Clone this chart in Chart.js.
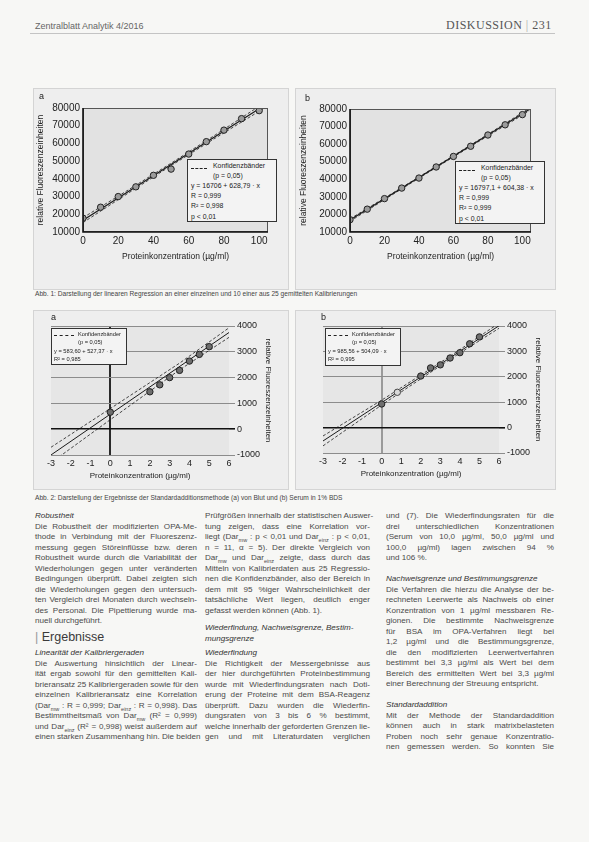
<!DOCTYPE html>
<html lang="de">
<head>
<meta charset="utf-8">
<title>Abb. 1 / Abb. 2</title>
<script src="https://cdn.jsdelivr.net/npm/chart.js@4/dist/chart.umd.min.js"></script>
<style>
  body { margin: 0; width: 589px; height: 842px; position: relative; overflow: hidden;
         background: #f7f7f5; font-family: 'Liberation Sans', Arial, sans-serif; color: #3a3a3a }
  .abs { position: absolute }
  .panel { position: absolute; background: #eeeeee; border: 1px solid #d4d4d4; box-sizing: border-box }
  canvas { position: absolute }
  .tag { position: absolute; font-size: 9px; color: #222 }
  .legend { position: absolute; background: #f3f3f3; border: 1px solid #333; box-sizing: border-box;
            color: #222; white-space: nowrap; overflow: hidden }
  .legend .row { position: relative }
  .legend .dash { position: absolute; border-top: 1px dashed #222 }
  .cap { position: absolute; left: 35px; font-size: 6.6px; color: #444; white-space: nowrap }
  .col { position: absolute; font-size: 8.1px; line-height: 10.5px; color: #4a4a4a }
  .col div { white-space: nowrap; text-align: justify; text-align-last: justify; height: 10.5px }
  .col div.end { text-align-last: left }
  .col .sh { font-style: italic; color: #333 }
  .col sub { font-size: 5.5px; line-height: 0 }
</style>
</head>
<body>

<!-- Kopfzeile -->
<div class="abs" style="left:35px;top:21px;font-size:9px;color:#666">Zentralblatt Analytik 4/2016</div>
<div class="abs" style="left:446px;top:18px;font-family:'Liberation Serif',serif;font-size:12px;letter-spacing:0.5px;color:#555">DISKUSSION <span style="color:#aaa">|</span> 231</div>
<div class="abs" style="left:30px;top:33px;width:525px;height:1px;background:#c4c4c4"></div>

<!-- Abb. 1 -->
<div class="panel" style="left:33px;top:88px;width:256px;height:202px"></div>
<div class="panel" style="left:295px;top:88px;width:261px;height:202px"></div>
<canvas id="fig1a" width="256" height="202" style="left:33px;top:88px"></canvas>
<canvas id="fig1b" width="261" height="202" style="left:295px;top:88px"></canvas>
<div class="tag" style="left:39px;top:91px">a</div>
<div class="tag" style="left:305px;top:93px">b</div>

<div class="legend" style="left:187px;top:159px;width:90px;height:63px;font-size:6.9px;line-height:10.2px;padding:1px 3px">
  <div class="row" style="padding-left:22px;height:20px;line-height:9.5px">Konfidenzbänder<br>(p = 0,05)<span class="dash" style="left:0;top:7px;width:16px"></span></div>
  <div>y = 16706 + 628,79 · x</div>
  <div>R = 0,999</div>
  <div>R² = 0,998</div>
  <div>p &lt; 0,01</div>
</div>
<div class="legend" style="left:455px;top:161px;width:90px;height:63px;font-size:6.9px;line-height:10.2px;padding:1px 3px">
  <div class="row" style="padding-left:22px;height:20px;line-height:9.5px">Konfidenzbänder<br>(p = 0,05)<span class="dash" style="left:0;top:7px;width:16px"></span></div>
  <div>y = 16797,1 + 604,38 · x</div>
  <div>R = 0,999</div>
  <div>R² = 0,999</div>
  <div>p &lt; 0,01</div>
</div>

<div class="cap" style="top:290px">Abb. 1: Darstellung der linearen Regression an einer einzelnen und 10 einer aus 25 gemittelten Kalibrierungen</div>

<!-- Abb. 2 -->
<div class="panel" style="left:33px;top:310px;width:256px;height:180px"></div>
<div class="panel" style="left:295px;top:310px;width:261px;height:180px"></div>
<canvas id="fig2a" width="256" height="180" style="left:33px;top:310px"></canvas>
<canvas id="fig2b" width="261" height="180" style="left:295px;top:310px"></canvas>
<div class="tag" style="left:51px;top:312px">a</div>
<div class="tag" style="left:321px;top:312px">b</div>

<div class="legend" style="left:51px;top:328px;width:76px;height:37px;font-size:5.7px;line-height:8.4px;padding:1px 2px">
  <div class="row" style="padding-left:24px;height:16.8px">Konfidenzbänder<br>(p = 0,05)<span class="dash" style="left:0;top:5px;width:20px"></span></div>
  <div>y = 583,60 + 527,37 · x</div>
  <div>R² = 0,985</div>
</div>
<div class="legend" style="left:325px;top:328px;width:76px;height:38px;font-size:5.7px;line-height:8.4px;padding:1px 2px">
  <div class="row" style="padding-left:24px;height:16.8px">Konfidenzbänder<br>(p = 0,05)<span class="dash" style="left:0;top:5px;width:20px"></span></div>
  <div>y = 985,56 + 504,09 · x</div>
  <div>R² = 0,995</div>
</div>

<div class="cap" style="top:494px">Abb. 2: Darstellung der Ergebnisse der Standardadditionsmethode (a) von Blut und (b) Serum in 1% BDS</div>

<!-- Fliesstext -->
<div class="col" style="left:35px;top:511px;width:162px">
  <div class="sh end">Robustheit</div>
  <div>Die Robustheit der modifizierten OPA-Me-</div>
  <div>thode in Verbindung mit der Fluoreszenz-</div>
  <div>messung gegen Störeinflüsse bzw. deren</div>
  <div>Robustheit wurde durch die Variabilität der</div>
  <div>Wiederholungen gegen unter veränderten</div>
  <div>Bedingungen überprüft. Dabei zeigten sich</div>
  <div>die Wiederholungen gegen den untersuch-</div>
  <div>ten Vergleich drei Monaten durch wechseln-</div>
  <div>des Personal. Die Pipettierung wurde ma-</div>
  <div class="end">nuell durchgeführt.</div>
</div>
<div class="abs" style="left:35px;top:630px;font-size:12.5px;color:#3a3a3a"><span style="color:#999">|</span> Ergebnisse</div>
<div class="col" style="left:35px;top:648px;width:162px">
  <div class="sh end">Linearität der Kalibriergeraden</div>
  <div>Die Auswertung hinsichtlich der Linear-</div>
  <div>ität ergab sowohl für den gemittelten Kali-</div>
  <div>brieransatz 25 Kalibriergeraden sowie für den</div>
  <div>einzelnen Kalibrieransatz eine Korrelation</div>
  <div>(Dar<sub>mw</sub> : R = 0,999; Dar<sub>einz</sub> : R = 0,998). Das</div>
  <div>Bestimmtheitsmaß von Dar<sub>mw</sub> (R² = 0,999)</div>
  <div>und Dar<sub>einz</sub> (R² = 0,998) weist außerdem auf</div>
  <div>einen starken Zusammenhang hin. Die beiden</div>
</div>

<div class="col" style="left:205px;top:511px;width:165px">
  <div>Prüfgrößen innerhalb der statistischen Auswer-</div>
  <div>tung zeigen, dass eine Korrelation vor-</div>
  <div>liegt (Dar<sub>mw</sub> : p &lt; 0,01 und Dar<sub>einz</sub> : p &lt; 0,01,</div>
  <div>n = 11, α = 5). Der direkte Vergleich von</div>
  <div>Dar<sub>mw</sub> und Dar<sub>einz</sub> zeigte, dass durch das</div>
  <div>Mitteln von Kalibrierdaten aus 25 Regressio-</div>
  <div>nen die Konfidenzbänder, also der Bereich in</div>
  <div>dem mit 95 %iger Wahrscheinlichkeit der</div>
  <div>tatsächliche Wert liegen, deutlich enger</div>
  <div class="end">gefasst werden können (Abb. 1).</div>
</div>
<div class="col" style="left:205px;top:623px;width:165px">
  <div class="sh end">Wiederfindung, Nachweisgrenze, Bestim-</div>
  <div class="sh end">mungsgrenze</div>
</div>
<div class="col" style="left:205px;top:648px;width:165px">
  <div class="sh end">Wiederfindung</div>
  <div>Die Richtigkeit der Messergebnisse aus</div>
  <div>der hier durchgeführten Proteinbestimmung</div>
  <div>wurde mit Wiederfindungsraten nach Doti-</div>
  <div>erung der Proteine mit dem BSA-Reagenz</div>
  <div>überprüft. Dazu wurden die Wiederfin-</div>
  <div>dungsraten von 3 bis 6 % bestimmt,</div>
  <div>welche innerhalb der geforderten Grenzen lie-</div>
  <div>gen und mit Literaturdaten verglichen</div>
</div>

<div class="col" style="left:386px;top:511px;width:168px">
  <div>und (7). Die Wiederfindungsraten für die</div>
  <div>drei unterschiedlichen Konzentrationen</div>
  <div>(Serum von 10,0 µg/ml, 50,0 µg/ml und</div>
  <div>100,0 µg/ml) lagen zwischen 94 %</div>
  <div class="end">und 106 %.</div>
</div>
<div class="col" style="left:386px;top:574px;width:168px">
  <div class="sh end">Nachweisgrenze und Bestimmungsgrenze</div>
  <div>Die Verfahren die hierzu die Analyse der be-</div>
  <div>rechneten Leerwerte als Nachweis ob einer</div>
  <div>Konzentration von 1 µg/ml messbaren Re-</div>
  <div>gionen. Die bestimmte Nachweisgrenze</div>
  <div>für BSA im OPA-Verfahren liegt bei</div>
  <div>1,2 µg/ml und die Bestimmungsgrenze,</div>
  <div>die den modifizierten Leerwertverfahren</div>
  <div>bestimmt bei 3,3 µg/ml als Wert bei dem</div>
  <div>Bereich des ermittelten Wert bei 3,3 µg/ml</div>
  <div class="end">einer Berechnung der Streuung entspricht.</div>
</div>
<div class="col" style="left:386px;top:700px;width:168px">
  <div class="sh end">Standardaddition</div>
  <div>Mit der Methode der Standardaddition</div>
  <div>können auch in stark matrixbelasteten</div>
  <div>Proben noch sehr genaue Konzentratio-</div>
  <div>nen gemessen werden. So konnten Sie</div>
</div>

<script>
//  Abb. 1 – Kalibrierpunkte (µg/ml) und relative Fluoreszenzeinheiten
const calX = [0, 10, 20, 30, 40, 50, 60, 70, 80, 90, 100]
const einzelY = [17800, 24000, 30000, 35500, 42000, 45500, 54000, 61000, 67500, 74000, 78500]
const mittelY = [17000, 23000, 29000, 35000, 40700, 47000, 53000, 58800, 65200, 71000, 76800]

//  Regressionen laut Legende
const fitA = { a: 16706, b: 628.79 }
const fitB = { a: 16797.1, b: 604.38 }

//  Konfidenzbänder
const band1X = [0, 25, 50, 75, 104]
const band1aUp = [18100, 33300, 48850, 64750, 83600]
const band1aLo = [15300, 31500, 47450, 62950, 80600]
const band1bUp = [17500, 32300, 47350, 62550, 80400]
const band1bLo = [16100, 31500, 46700, 61700, 78900]

const x1Ticks = [0, 20, 40, 60, 80, 100]
const y1Ticks = [10000, 20000, 30000, 40000, 50000, 60000, 70000, 80000]

//  Abb. 2 – Standardaddition
const addX = [0, 2, 2.5, 3, 3.5, 4, 4.5, 5]
const blutY = [660, 1450, 1720, 2000, 2280, 2640, 2900, 3200]
const serumY = [930, 2030, 2350, 2470, 2740, 2950, 3300, 3570]
const serumOffenX = [0.8]
const serumOffenY = [1390]

const fit2A = { a: 583.6, b: 527.37 }
const fit2B = { a: 985.56, b: 504.09 }

const band2X = [-3, 0, 3.5, 6]
const band2aUp = [-700, 800, 2560, 3930]
const band2aLo = [-1300, 370, 2300, 3560]
const band2bUp = [-330, 1080, 2810, 4110]
const band2bLo = [-720, 890, 2690, 3910]

const x2Ticks = [-3, -2, -1, 0, 1, 2, 3, 4, 5, 6]
const y2Ticks = [-1000, 0, 1000, 2000, 3000, 4000]

const FONT = "'Liberation Sans', Arial, sans-serif"

//  Hintergrund und Rahmen des Plotbereichs
const plotBg = {
  id: 'plotBg',
  beforeDraw (chart, args, opts) {
    const { ctx, chartArea: a } = chart
    ctx.save()
    ctx.fillStyle = opts.color
    ctx.fillRect(a.left, a.top, a.width, a.height)
    ctx.restore()
  },
  afterDraw (chart, args, opts) {
    if (!opts.frame) return
    const { ctx, chartArea: a } = chart
    ctx.save()
    ctx.strokeStyle = '#555'
    ctx.lineWidth = 1
    ctx.strokeRect(a.left + 0.5, a.top + 0.5, a.width - 1, a.height - 1)
    ctx.strokeStyle = '#111'
    ctx.lineWidth = 1.6
    ctx.beginPath()
    ctx.moveTo(a.left, a.top)
    ctx.lineTo(a.left, a.bottom)
    ctx.lineTo(a.right, a.bottom)
    ctx.stroke()
    ctx.restore()
  }
}

const pts = (xs, ys) => xs.map((x, i) => ({ x, y: ys[i] }))
const fitLine = (fit, x0, x1) => [{ x: x0, y: fit.a + fit.b * x0 }, { x: x1, y: fit.a + fit.b * x1 }]
const fixTicks = list => scale => { scale.ticks = list.map(v => ({ value: v })) }

function lineSet (data, dash, width) {
  return {
    data,
    showLine: true,
    pointRadius: 0,
    borderColor: '#1a1a1a',
    borderWidth: width,
    borderDash: dash
  }
}

//  Kalibriergerade (Abb. 1)
function chartCalib (id, ys, fit, up, lo, pad, yWidth) {
  const ctx = document.getElementById(id).getContext('2d')
  return new Chart(ctx, {
    type: 'scatter',
    data: {
      datasets: [
        { data: pts(calX, ys), pointRadius: 3.2, backgroundColor: '#9b9b9b', borderColor: '#222', borderWidth: 1 },
        lineSet(fitLine(fit, 0, 104), [], 1.2),
        lineSet(pts(band1X, up), [3, 2], 0.8),
        lineSet(pts(band1X, lo), [3, 2], 0.8)
      ]
    },
    options: {
      animation: false,
      responsive: false,
      devicePixelRatio: 1,
      layout: { padding: pad },
      plugins: {
        legend: { display: false },
        tooltip: { enabled: false },
        plotBg: { color: '#e2e2e2', frame: true }
      },
      scales: {
        x: {
          type: 'linear',
          min: 0,
          max: 105,
          afterBuildTicks: fixTicks(x1Ticks),
          grid: { display: false, drawTicks: false },
          border: { display: false },
          ticks: { font: { family: FONT, size: 10 }, color: '#222', padding: 3 },
          title: { display: true, text: 'Proteinkonzentration (µg/ml)', font: { family: FONT, size: 8.5 }, color: '#222', padding: { top: 2, bottom: 0 } },
          afterFit: s => { s.height = 30 }
        },
        y: {
          min: 10000,
          max: 80000,
          afterBuildTicks: fixTicks(y1Ticks),
          grid: { display: false, drawTicks: false },
          border: { display: false },
          ticks: { font: { family: FONT, size: 10 }, color: '#222', padding: 3, callback: v => String(v) },
          title: { display: true, text: 'relative Fluoreszenzeinheiten', font: { family: FONT, size: 8.5 }, color: '#222', padding: 0 },
          afterFit: s => { s.width = yWidth }
        }
      }
    },
    plugins: [plotBg]
  })
}

//  Standardaddition (Abb. 2)
function chartAddition (id, ys, fit, up, lo, extra, pad, zeroColor) {
  const ctx = document.getElementById(id).getContext('2d')
  const sets = [
    { data: pts(addX, ys), pointRadius: 3.2, backgroundColor: '#6e6e6e', borderColor: '#222', borderWidth: 1 }
  ]
  if (extra) sets.push({ data: extra, pointRadius: 3.2, backgroundColor: '#d8d8d8', borderColor: '#444', borderWidth: 1 })
  sets.push(
    lineSet(fitLine(fit, -3, 6), [], 1),
    lineSet(pts(band2X, up), [3, 2], 0.8),
    lineSet(pts(band2X, lo), [3, 2], 0.8)
  )
  return new Chart(ctx, {
    type: 'scatter',
    data: { datasets: sets },
    options: {
      animation: false,
      responsive: false,
      devicePixelRatio: 1,
      layout: { padding: pad },
      plugins: {
        legend: { display: false },
        tooltip: { enabled: false },
        plotBg: { color: '#e6e6e6', frame: false }
      },
      scales: {
        x: {
          type: 'linear',
          min: -3,
          max: 6,
          afterBuildTicks: fixTicks(x2Ticks),
          grid: {
            drawTicks: false,
            color: c => (c.tick && c.tick.value === 0 ? zeroColor : 'rgba(0,0,0,0)'),
            lineWidth: c => (c.tick && c.tick.value === 0 ? 2 : 0)
          },
          border: { display: false },
          ticks: { font: { family: FONT, size: 9 }, color: '#222', padding: 3 },
          title: { display: true, text: 'Proteinkonzentration (µg/ml)', font: { family: FONT, size: 8 }, color: '#222', padding: { top: 1, bottom: 0 } },
          afterFit: s => { s.height = 26 }
        },
        y: {
          position: 'right',
          min: -1000,
          max: 4000,
          afterBuildTicks: fixTicks(y2Ticks),
          grid: {
            tickLength: 6,
            color: c => (c.tick && c.tick.value === 0 ? '#111' : '#8c8c8c'),
            lineWidth: c => (c.tick && c.tick.value === 0 ? 1.6 : 1)
          },
          border: { display: false },
          ticks: { font: { family: FONT, size: 9 }, color: '#222', padding: 2, callback: v => String(v) },
          title: { display: true, text: 'relative Fluoreszenzeinheiten', font: { family: FONT, size: 8 }, color: '#222', padding: 0 },
          afterFit: s => { s.width = 44 }
        }
      }
    },
    plugins: [plotBg]
  })
}

chartCalib('fig1a', einzelY, fitA, band1aUp, band1aLo, { left: 3, top: 20, right: 21, bottom: 28 }, 47)
chartCalib('fig1b', mittelY, fitB, band1bUp, band1bLo, { left: 4, top: 21, right: 25, bottom: 28 }, 51)
chartAddition('fig2a', blutY, fit2A, band2aUp, band2aLo, null, { left: 18, top: 16, right: 16, bottom: 9 }, '#2a2a2a')
chartAddition('fig2b', serumY, fit2B, band2bUp, band2bLo, pts(serumOffenX, serumOffenY), { left: 28, top: 16, right: 13, bottom: 11 }, '#9a9a9a')
</script>
</body>
</html>
